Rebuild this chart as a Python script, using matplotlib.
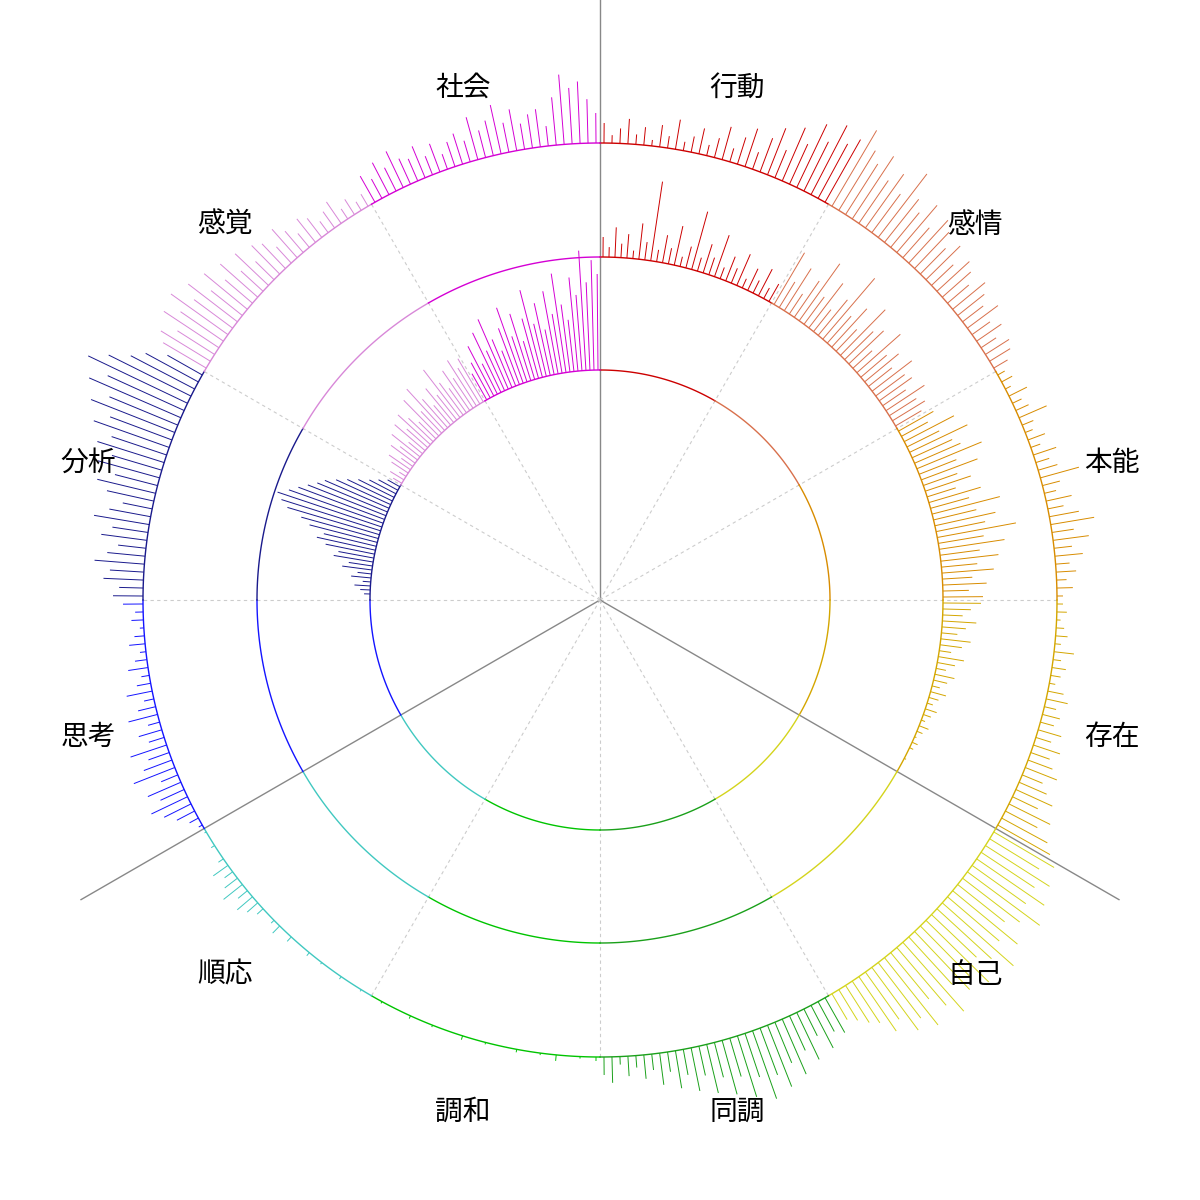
import numpy as np
import matplotlib.pyplot as plt

plt.rcParams['font.family'] = ['Noto Sans CJK JP', 'DejaVu Sans']

# sectors clockwise from top, 30 deg each
labels = ['行動', '感情', '本能', '存在', '自己', '同調', '調和', '順応', '思考', '分析', '感覚', '社会']
colors = ['#cc0000', '#d8704c', '#d88c00', '#d4a600', '#d4d41c', '#1aa01a',
          '#00c400', '#40c8c0', '#1414ff', '#1a1a8c', '#d888d8', '#d400d4']

# ring radii (px)
r_inner, r_mid, r_outer = 230, 343, 457

# bar lengths (px) per sector, outer ring
outer = {
    '行動': [20, 8, 15, 25, 10, 18, 6, 22, 12, 30, 9, 16, 26, 11, 20, 34, 14, 28, 40, 18, 36, 50, 30, 58, 44, 70, 55, 78, 62, 72],
    '感情': [88, 70, 60, 75, 52, 66, 48, 80, 55, 45, 62, 40, 58, 50, 36, 48, 30, 44, 38, 28, 42, 34, 26, 38, 22, 30, 18, 28, 24, 16],
    '本能': [8, 12, 6, 20, 10, 14, 30, 12, 8, 18, 10, 24, 14, 20, 40, 18, 12, 26, 16, 30, 44, 22, 36, 18, 28, 14, 20, 10, 16, 6],
    '存在': [6, 10, 4, 8, 12, 6, 20, 8, 14, 10, 6, 16, 22, 12, 18, 14, 24, 16, 28, 20, 26, 34, 22, 30, 40, 28, 46, 36, 52, 60],
    '自己': [70, 58, 76, 64, 82, 66, 90, 72, 60, 84, 68, 95, 74, 62, 88, 70, 80, 64, 92, 76, 60, 86, 70, 78, 58, 66, 50, 44, 36, 30],
    '同調': [40, 34, 48, 30, 52, 38, 60, 44, 66, 50, 72, 46, 64, 40, 56, 36, 50, 30, 44, 26, 38, 20, 32, 16, 24, 12, 20, 8, 26, 18],
    '調和': [4, 0, 2, 0, 0, 6, 0, 2, 0, 0, 3, 0, 0, 0, 2, 0, 0, 4, 0, 0, 0, 2, 0, 0, 3, 0, 0, 0, 2, 0],
    '順応': [0, 2, 0, 0, 3, 0, 0, 2, 0, 4, 0, 0, 6, 0, 10, 4, 0, 8, 14, 20, 12, 24, 16, 10, 18, 6, 0, 4, 0, 2],
    '思考': [4, 10, 20, 30, 40, 26, 36, 18, 44, 30, 22, 38, 16, 24, 12, 30, 18, 10, 26, 14, 8, 20, 12, 6, 16, 10, 4, 12, 8, 20],
    '分析': [30, 24, 40, 34, 50, 38, 28, 46, 36, 56, 42, 30, 48, 60, 44, 64, 52, 70, 58, 80, 66, 90, 74, 100, 84, 110, 92, 72, 60, 40],
    '感覚': [50, 58, 44, 66, 52, 70, 48, 62, 40, 56, 36, 50, 30, 46, 26, 40, 34, 22, 38, 28, 18, 30, 24, 14, 20, 26, 12, 18, 10, 14],
    '社会': [30, 22, 36, 26, 40, 28, 24, 34, 20, 30, 16, 26, 32, 22, 44, 28, 36, 50, 30, 42, 26, 34, 38, 20, 48, 70, 56, 62, 44, 30],
}
# middle ring
middle = {
    '行動': [20, 10, 30, 14, 24, 8, 36, 18, 80, 12, 28, 16, 40, 10, 22, 60, 14, 30, 18, 44, 12, 26, 16, 34, 10, 24, 14, 30, 12, 20],
    '感情': [60, 30, 50, 24, 44, 70, 34, 56, 28, 46, 80, 36, 52, 30, 64, 40, 48, 26, 58, 34, 44, 30, 50, 36, 40, 28, 46, 32, 38, 30],
    '本能': [40, 30, 56, 36, 64, 44, 50, 70, 40, 60, 36, 48, 30, 54, 40, 70, 44, 62, 50, 80, 46, 66, 40, 58, 36, 52, 30, 44, 26, 40],
    '存在': [38, 28, 20, 34, 24, 16, 30, 22, 12, 26, 18, 10, 20, 14, 8, 16, 10, 6, 12, 8, 4, 10, 6, 2, 6, 4, 0, 2, 0, 0],
}
# inner ring
inner = {
    '分析': [0, 6, 10, 16, 8, 20, 14, 30, 24, 40, 36, 50, 60, 54, 70, 80, 96, 104, 110, 100, 92, 84, 76, 70, 60, 50, 40, 30, 22, 14],
    '感覚': [10, 16, 8, 20, 26, 14, 30, 22, 36, 18, 40, 28, 44, 34, 24, 50, 30, 56, 38, 26, 44, 32, 60, 40, 30, 48, 36, 54, 42, 50],
    '社会': [30, 40, 56, 34, 66, 44, 76, 52, 38, 60, 80, 48, 70, 40, 62, 90, 54, 74, 46, 84, 60, 100, 68, 52, 94, 76, 120, 88, 110, 96],
}

fig = plt.figure(figsize=(12, 12), dpi=100)
ax = fig.add_axes([0, 0, 1, 1], projection='polar')
ax.set_theta_zero_location('N')
ax.set_theta_direction(-1)
ax.set_ylim(0, 600)
ax.axis('off')

sec = np.deg2rad(30)
th_full = np.linspace(0, sec, 100)

# spokes
for k in range(12):
    a = k * sec
    if k % 4 == 0:
        ax.plot([a, a], [0, 600], color='#888888', lw=1.0, zorder=1)
    else:
        ax.plot([a, a], [0, r_outer], color='#cccccc', lw=0.8, ls=(0, (3, 3)), zorder=1)

for i, lab in enumerate(labels):
    a0 = i * sec
    col = colors[i]
    for rr in (r_inner, r_mid, r_outer):
        ax.plot(a0 + th_full, np.full_like(th_full, rr), color=col, lw=1.0, zorder=2)
    for ring_r, data in ((r_outer, outer), (r_mid, middle), (r_inner, inner)):
        if lab in data:
            vals = np.array(data[lab], dtype=float)
            n = len(vals)
            th = a0 + (np.arange(n) + 0.5) * sec / n
            ax.vlines(th, ring_r, ring_r + vals, color=col, lw=0.7, zorder=3)
    ax.text(a0 + sec / 2, 530, lab, ha='center', va='center', fontsize=20, color='black')

fig.savefig('out.png', dpi=100, facecolor='white')
